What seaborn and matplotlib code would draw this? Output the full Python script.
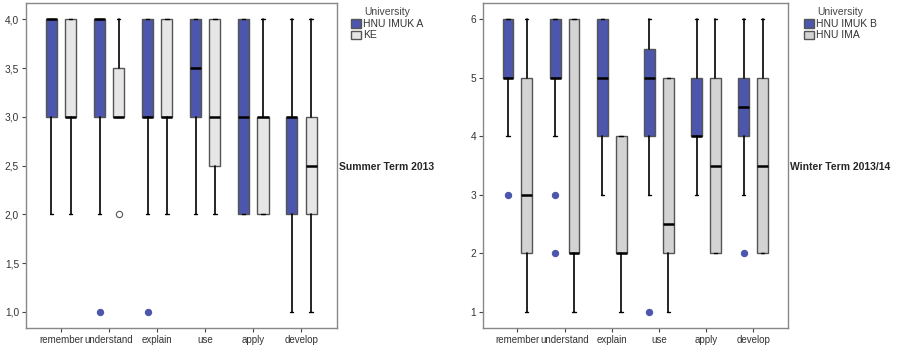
import matplotlib
matplotlib.use("Agg")
import matplotlib.pyplot as plt
import matplotlib.patches as mpatches
from matplotlib.ticker import FuncFormatter
import seaborn as sns

categories = ["remember", "understand", "explain", "use", "apply", "develop"]

# Summer Term 2013
summer_groups = ["HNU IMUK A", "KE"]
summer_a_q1 = [3, 3, 3, 3, 2, 2]
summer_a_med = [4, 4, 3, 3.5, 3, 3]
summer_a_q3 = [4, 4, 4, 4, 4, 3]
summer_a_lo = [2, 2, 2, 2, 2, 1]
summer_a_hi = [4, 4, 4, 4, 4, 4]
summer_a_fliers = [[], [1], [1], [], [], []]

summer_b_q1 = [3, 3, 3, 2.5, 2, 2]
summer_b_med = [3, 3, 3, 3, 3, 2.5]
summer_b_q3 = [4, 3.5, 4, 4, 3, 3]
summer_b_lo = [2, 3, 2, 2, 2, 1]
summer_b_hi = [4, 4, 4, 4, 4, 4]
summer_b_fliers = [[], [2], [], [], [], []]

# Winter Term 2013/14
winter_groups = ["HNU IMUK B", "HNU IMA"]
winter_a_q1 = [5, 5, 4, 4, 4, 4]
winter_a_med = [5, 5, 5, 5, 4, 4.5]
winter_a_q3 = [6, 6, 6, 5.5, 5, 5]
winter_a_lo = [4, 4, 3, 3, 3, 3]
winter_a_hi = [6, 6, 6, 6, 6, 6]
winter_a_fliers = [[3], [3, 2], [], [1], [], [2]]

winter_b_q1 = [2, 2, 2, 2, 2, 2]
winter_b_med = [3, 2, 2, 2.5, 3.5, 3.5]
winter_b_q3 = [5, 6, 4, 5, 5, 5]
winter_b_lo = [1, 1, 1, 1, 2, 2]
winter_b_hi = [6, 6, 4, 5, 6, 6]
winter_b_fliers = [[], [], [], [], [], []]

BLUE = "#4C56AC"
GRAY_L = "#E6E6E6"
GRAY_R = "#D3D3D3"
EDGE = "#555555"

sns.set_theme(style="white")
plt.rcParams["font.family"] = ["Liberation Sans", "DejaVu Sans"]

fig = plt.figure(figsize=(8.97, 3.51), dpi=100)


def make_stats(q1, med, q3, lo, hi, fl):
    return [dict(q1=a, med=b, q3=c, whislo=d, whishi=e, fliers=f)
            for a, b, c, d, e, f in zip(q1, med, q3, lo, hi, fl)]


def draw_group(ax, stats, pos, color, open_flier):
    ax.bxp(stats, positions=pos, widths=0.23, patch_artist=True,
           showfliers=True, manage_ticks=False,
           boxprops=dict(facecolor=color, edgecolor=EDGE, linewidth=1.0),
           medianprops=dict(color="black", linewidth=1.8),
           whiskerprops=dict(color="black", linewidth=1.2),
           capprops=dict(color="black", linewidth=1.0),
           capwidths=0.07,
           flierprops=dict(marker="o", markersize=4.5,
                           markerfacecolor=("white" if open_flier else BLUE),
                           markeredgecolor=(EDGE if open_flier else BLUE),
                           markeredgewidth=0.8, linestyle="none"))


def panel(rect, sa, sb, ca, cb, open_b, ylim, yticks, fmt, groups, title, leg_x, title_x):
    ax = fig.add_axes(rect)
    n = len(categories)
    draw_group(ax, sa, [i - 0.2 for i in range(n)], ca, False)
    draw_group(ax, sb, [i + 0.2 for i in range(n)], cb, open_b)
    ax.set_xlim(-0.73, n - 1 + 0.74)
    ax.set_ylim(*ylim)
    ax.set_xticks(range(n))
    ax.set_xticklabels(categories)
    ax.set_yticks(yticks)
    ax.yaxis.set_major_formatter(FuncFormatter(fmt))
    ax.tick_params(axis="both", length=3, width=0.8,
                   color="#444444", labelcolor="#333333", direction="out",
                   pad=2, left=True, bottom=True)
    ax.tick_params(axis="x", labelsize=7)
    ax.tick_params(axis="y", labelsize=7.3)
    for s in ax.spines.values():
        s.set_color("#888888")
        s.set_linewidth(1.0)
    handles = [mpatches.Patch(facecolor=ca, edgecolor=EDGE, label=groups[0]),
               mpatches.Patch(facecolor=cb, edgecolor=EDGE, label=groups[1])]
    leg = fig.legend(handles=handles, title="University", loc="upper left",
                     bbox_to_anchor=(leg_x, 1.0), frameon=False, fontsize=7.5,
                     title_fontsize=7.5, handlelength=0.9, handleheight=0.9,
                     handletextpad=0.2, labelspacing=0.15, borderpad=0.2)
    leg.get_title().set_color("#444444")
    for t in leg.get_texts():
        t.set_color("#333333")
    fig.text(title_x, 1 - 167 / 351, title, fontsize=7.5, fontweight="bold",
             va="center", ha="left")
    return ax


fmt_l = lambda v, p: f"{v:.1f}".replace(".", ",")
fmt_r = lambda v, p: f"{v:.0f}"

panel([26 / 897, 23 / 351, 311 / 897, 325 / 351],
      make_stats(summer_a_q1, summer_a_med, summer_a_q3, summer_a_lo, summer_a_hi, summer_a_fliers),
      make_stats(summer_b_q1, summer_b_med, summer_b_q3, summer_b_lo, summer_b_hi, summer_b_fliers),
      BLUE, GRAY_L, True, (0.836, 4.167), [1, 1.5, 2, 2.5, 3, 3.5, 4], fmt_l,
      summer_groups, "Summer Term 2013", 344 / 897, 339 / 897)

panel([483 / 897, 23 / 351, 305 / 897, 325 / 351],
      make_stats(winter_a_q1, winter_a_med, winter_a_q3, winter_a_lo, winter_a_hi, winter_a_fliers),
      make_stats(winter_b_q1, winter_b_med, winter_b_q3, winter_b_lo, winter_b_hi, winter_b_fliers),
      BLUE, GRAY_R, False, (0.727, 6.28), [1, 2, 3, 4, 5, 6], fmt_r,
      winter_groups, "Winter Term 2013/14", 797 / 897, 790 / 897)

fig.savefig("out.png", dpi=100)
